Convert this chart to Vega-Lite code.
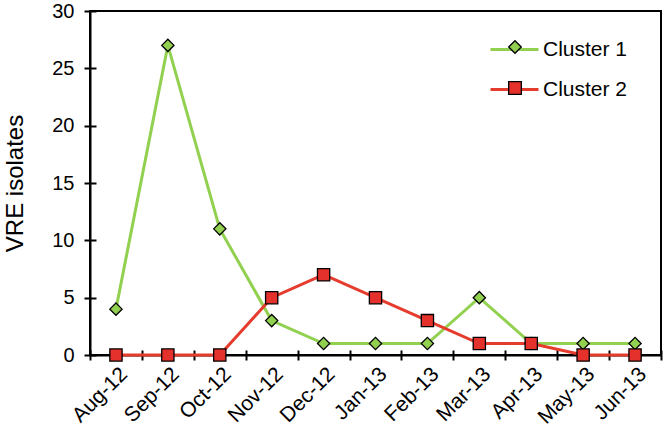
{
  "$schema": "https://vega.github.io/schema/vega-lite/v6.json",
  "autosize": "none",
  "padding": {"left": 90, "top": 11, "right": 3, "bottom": 78},
  "width": 571,
  "height": 344,
  "background": "white",
  "config": {
    "font": "Liberation Sans",
    "view": {"stroke": "black", "strokeWidth": 2},
    "axis": {"labelFont": "Liberation Sans", "titleFont": "Liberation Sans", "labelColor": "black", "titleColor": "black", "domainColor": "black", "tickColor": "black", "grid": false},
    "legend": {"labelFont": "Liberation Sans"}
  },
  "data": {
    "values": [
      {"month": "Aug-12", "series": "Cluster 1", "isolates": 4},
      {"month": "Sep-12", "series": "Cluster 1", "isolates": 27},
      {"month": "Oct-12", "series": "Cluster 1", "isolates": 11},
      {"month": "Nov-12", "series": "Cluster 1", "isolates": 3},
      {"month": "Dec-12", "series": "Cluster 1", "isolates": 1},
      {"month": "Jan-13", "series": "Cluster 1", "isolates": 1},
      {"month": "Feb-13", "series": "Cluster 1", "isolates": 1},
      {"month": "Mar-13", "series": "Cluster 1", "isolates": 5},
      {"month": "Apr-13", "series": "Cluster 1", "isolates": 1},
      {"month": "May-13", "series": "Cluster 1", "isolates": 1},
      {"month": "Jun-13", "series": "Cluster 1", "isolates": 1},
      {"month": "Aug-12", "series": "Cluster 2", "isolates": 0},
      {"month": "Sep-12", "series": "Cluster 2", "isolates": 0},
      {"month": "Oct-12", "series": "Cluster 2", "isolates": 0},
      {"month": "Nov-12", "series": "Cluster 2", "isolates": 5},
      {"month": "Dec-12", "series": "Cluster 2", "isolates": 7},
      {"month": "Jan-13", "series": "Cluster 2", "isolates": 5},
      {"month": "Feb-13", "series": "Cluster 2", "isolates": 3},
      {"month": "Mar-13", "series": "Cluster 2", "isolates": 1},
      {"month": "Apr-13", "series": "Cluster 2", "isolates": 1},
      {"month": "May-13", "series": "Cluster 2", "isolates": 0},
      {"month": "Jun-13", "series": "Cluster 2", "isolates": 0}
    ]
  },
  "resolve": {"axis": {"x": "independent", "y": "independent"}},
  "layer": [
    {
      "mark": {"type": "line", "strokeWidth": 3},
      "encoding": {
        "x": {
          "field": "month", "type": "nominal", "sort": null,
          "scale": {"type": "band", "paddingInner": 0, "paddingOuter": 0},
          "bandPosition": 0.5,
          "axis": {"title": null, "labelAngle": -45, "labelFontSize": 21, "tickBand": "extent", "tickSize": 5, "tickWidth": 2, "domainWidth": 2, "labelPadding": 3}
        },
        "y": {
          "field": "isolates", "type": "quantitative",
          "scale": {"domain": [0, 30], "nice": false},
          "axis": {"title": "VRE isolates", "titleFontSize": 24, "titleFontWeight": "normal", "labelFontSize": 20, "values": [0, 5, 10, 15, 20, 25, 30], "tickSize": 6, "tickWidth": 2, "domainWidth": 2, "labelPadding": 10, "titlePadding": 24}
        },
        "color": {
          "field": "series", "type": "nominal",
          "scale": {"domain": ["Cluster 1", "Cluster 2"], "range": ["#92D050", "#E63C2E"]},
          "legend": {"title": null, "orient": "none", "legendX": 399, "legendY": 13, "symbolType": "stroke", "symbolSize": 2304, "symbolStrokeWidth": 3, "labelFontSize": 21, "labelOffset": 3, "padding": 0, "rowPadding": 4, "labelColor": "black"}
        }
      }
    },
    {
      "mark": {"type": "point", "filled": true, "stroke": "black", "strokeWidth": 1.3, "size": 150, "opacity": 1},
      "encoding": {
        "x": {
          "field": "month", "type": "nominal", "sort": null,
          "bandPosition": 0.5,
          "axis": {"orient": "bottom", "title": null, "labels": false, "domain": false, "tickBand": "extent", "tickSize": -5, "tickWidth": 2}
        },
        "y": {
          "field": "isolates", "type": "quantitative",
          "axis": {"orient": "left", "title": null, "labels": false, "domain": false, "values": [0, 5, 10, 15, 20, 25, 30], "tickSize": -6, "tickWidth": 2}
        },
        "fill": {
          "field": "series", "type": "nominal",
          "scale": {"range": ["#92D050", "#E4312B"]},
          "legend": {"title": null, "orient": "none", "legendX": 418, "legendY": 29, "symbolSize": 160, "symbolStrokeColor": "black", "symbolStrokeWidth": 1.3, "labelExpr": "''", "padding": 0, "rowPadding": 23}
        },
        "shape": {
          "field": "series", "type": "nominal",
          "scale": {"range": ["diamond", "square"]},
          "legend": {"title": null, "orient": "none", "legendX": 418, "legendY": 29, "symbolSize": 160, "labelExpr": "''", "padding": 0, "rowPadding": 23}
        }
      }
    }
  ]
}
